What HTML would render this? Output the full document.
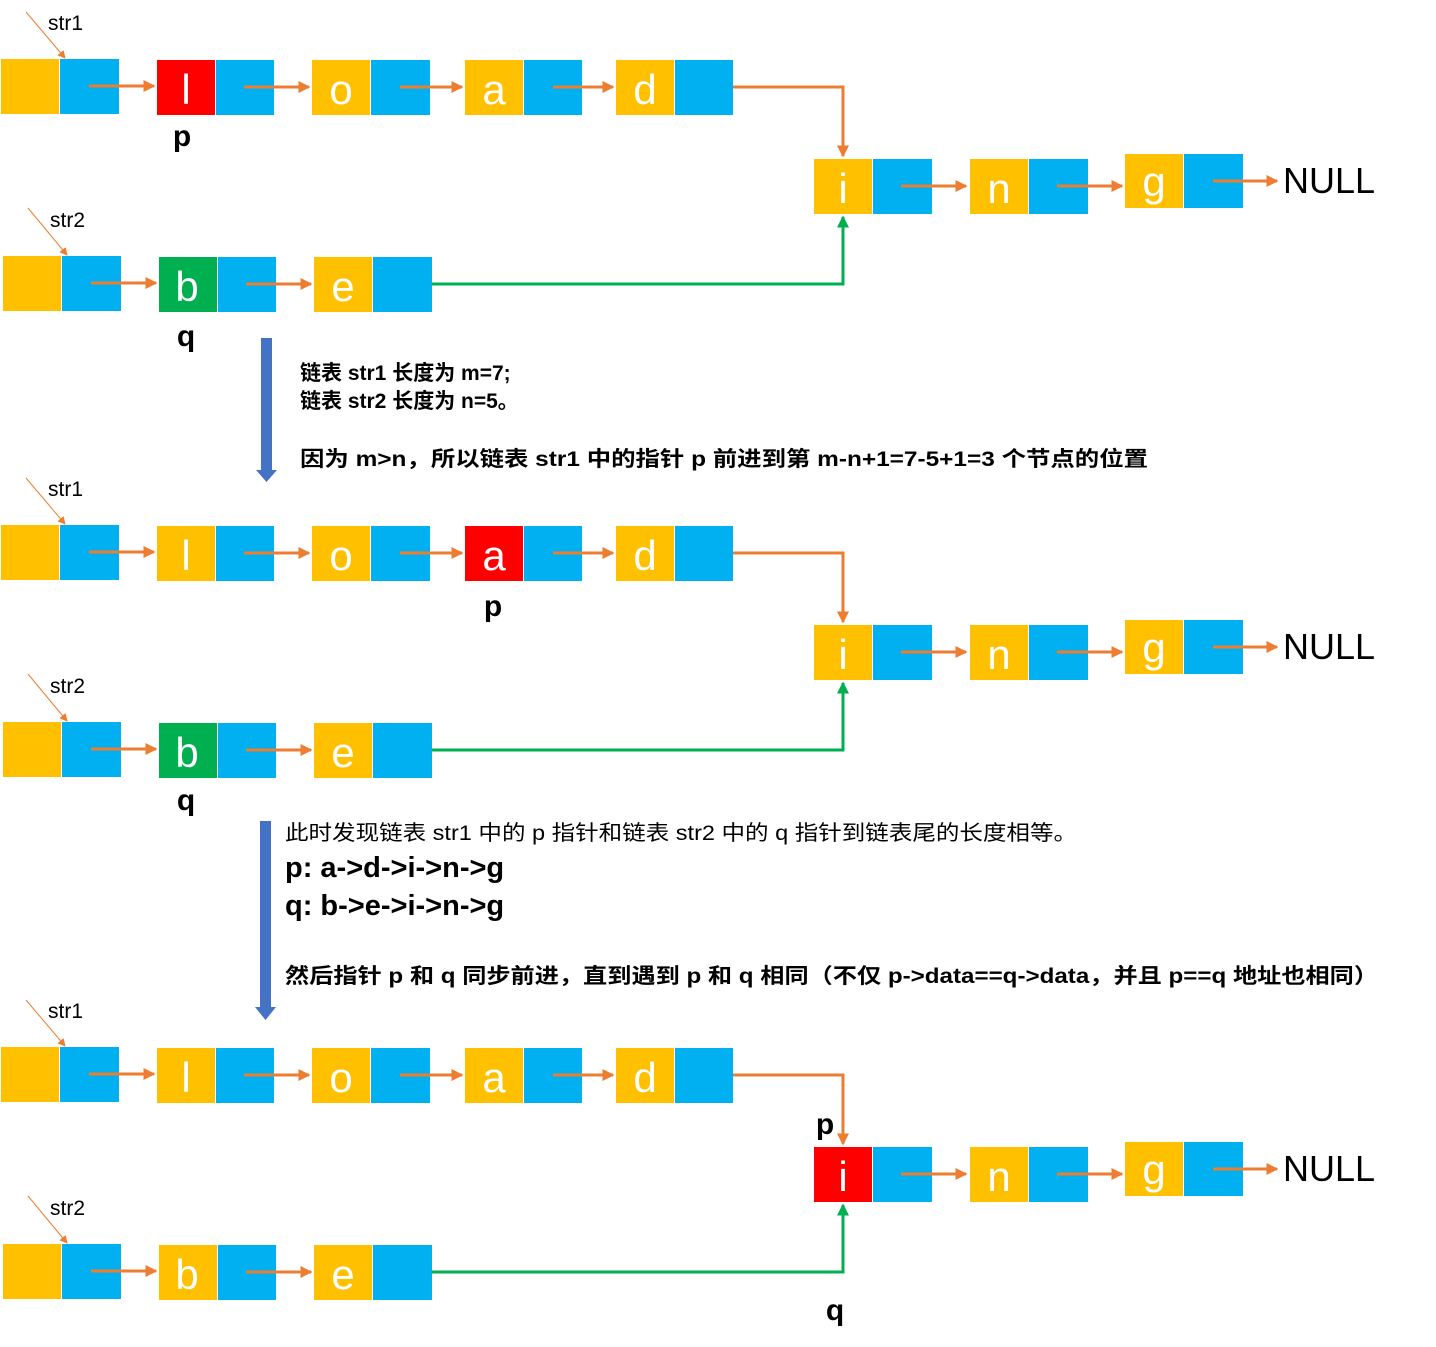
<!DOCTYPE html>
<html><head><meta charset="utf-8"><style>
html,body{margin:0;padding:0;background:#fff;width:1436px;height:1347px;overflow:hidden}
svg{display:block}
.L{font-family:"Liberation Sans",sans-serif;font-size:42px;fill:#fff;text-anchor:middle}
.lab{font-family:"Liberation Sans",sans-serif;font-size:30px;font-weight:bold;fill:#000;text-anchor:middle}
.s{font-family:"Liberation Sans",sans-serif;font-size:21px;fill:#000}
.N{font-family:"Liberation Sans",sans-serif;font-size:36px;fill:#000}
.t{font-family:"Liberation Sans","Noto Sans CJK SC",sans-serif;font-size:21px;font-weight:bold;fill:#000}
.tn{font-family:"Liberation Sans","Noto Sans CJK SC",sans-serif;font-size:21px;fill:#000}
.tb{font-family:"Liberation Sans",sans-serif;font-size:29px;font-weight:bold;fill:#000}
</style></head><body>
<svg width="1436" height="1347" viewBox="0 0 1436 1347" xmlns="http://www.w3.org/2000/svg">
<defs>
<marker id="ao" markerWidth="4" markerHeight="4" refX="3.5" refY="2" orient="auto" markerUnits="strokeWidth"><path d="M0,0 L4,2 L0,4 Z" fill="#ED7D31"/></marker>
<marker id="ag" markerWidth="4" markerHeight="4" refX="3.5" refY="2" orient="auto" markerUnits="strokeWidth"><path d="M0,0 L4,2 L0,4 Z" fill="#00B050"/></marker>
<marker id="at" markerWidth="8" markerHeight="8" refX="7" refY="4" orient="auto" markerUnits="userSpaceOnUse"><path d="M0,0 L8,4 L0,8 Z" fill="#ED7D31"/></marker>
</defs>

<!-- SECTION 1 -->
<g>
<line x1="26" y1="12" x2="65" y2="58" stroke="#ED7D31" stroke-width="1" marker-end="url(#at)"/>
<text x="48" y="30" class="s">str1</text>
<rect x="1" y="59" width="58" height="55" fill="#FFC000"/><rect x="60" y="59" width="59" height="55" fill="#00B0F0"/>
<rect x="157" y="60" width="58" height="55" fill="#FF0000"/><rect x="216" y="60" width="58" height="55" fill="#00B0F0"/><text x="186" y="104" class="L">l</text>
<rect x="312" y="60" width="58" height="55" fill="#FFC000"/><rect x="371" y="60" width="59" height="55" fill="#00B0F0"/><text x="341" y="104" class="L">o</text>
<rect x="465" y="60" width="58" height="55" fill="#FFC000"/><rect x="524" y="60" width="58" height="55" fill="#00B0F0"/><text x="494" y="104" class="L">a</text>
<rect x="616" y="60" width="58" height="55" fill="#FFC000"/><rect x="675" y="60" width="58" height="55" fill="#00B0F0"/><text x="645" y="104" class="L">d</text>
<g stroke="#ED7D31" stroke-width="3" fill="none" marker-end="url(#ao)">
<line x1="89" y1="86" x2="154" y2="86"/><line x1="244" y1="87" x2="309" y2="87"/><line x1="400" y1="87" x2="462" y2="87"/><line x1="553" y1="87" x2="613" y2="87"/>
<polyline points="733,87 843,87 843,156"/>
</g>
<text x="182" y="146" class="lab">p</text>
<line x1="28" y1="208" x2="67" y2="255" stroke="#ED7D31" stroke-width="1" marker-end="url(#at)"/>
<text x="50" y="227" class="s">str2</text>
<rect x="3" y="256" width="58" height="55" fill="#FFC000"/><rect x="62" y="256" width="59" height="55" fill="#00B0F0"/>
<rect x="159" y="257" width="58" height="55" fill="#00B050"/><rect x="218" y="257" width="58" height="55" fill="#00B0F0"/><text x="187" y="301" class="L">b</text>
<rect x="314" y="257" width="58" height="55" fill="#FFC000"/><rect x="373" y="257" width="59" height="55" fill="#00B0F0"/><text x="343" y="301" class="L">e</text>
<g stroke="#ED7D31" stroke-width="3" marker-end="url(#ao)"><line x1="91" y1="283" x2="156" y2="283"/><line x1="246" y1="284" x2="311" y2="284"/></g>
<polyline points="432,284 843,284 843,217" stroke="#00B050" stroke-width="3" fill="none" marker-end="url(#ag)"/>
<text x="186" y="346" class="lab">q</text>
<rect x="814" y="159" width="58" height="55" fill="#FFC000"/><rect x="873" y="159" width="59" height="55" fill="#00B0F0"/><text x="843" y="203" class="L">i</text>
<rect x="970" y="159" width="58" height="55" fill="#FFC000"/><rect x="1029" y="159" width="59" height="55" fill="#00B0F0"/><text x="999" y="203" class="L">n</text>
<rect x="1125" y="154" width="58" height="54" fill="#FFC000"/><rect x="1184" y="154" width="59" height="54" fill="#00B0F0"/><text x="1154" y="196" class="L">g</text>
<g stroke="#ED7D31" stroke-width="3" marker-end="url(#ao)"><line x1="901" y1="186" x2="966" y2="186"/><line x1="1057" y1="186" x2="1122" y2="186"/><line x1="1213" y1="181" x2="1277" y2="181"/></g>
<text x="1283" y="193" class="N">NULL</text>
</g>

<!-- arrow 1 + text -->
<rect x="261" y="338" width="11" height="134" fill="#4472C4"/><path d="M256,470 L277,470 L266.5,482 Z" fill="#4472C4"/>
<text x="300" y="380" class="t">链表 str1 长度为 m=7;</text>
<text x="300" y="408" class="t">链表 str2 长度为 n=5。</text>
<text x="300" y="466" class="t" textLength="848" lengthAdjust="spacingAndGlyphs">因为 m&gt;n，所以链表 str1 中的指针 p 前进到第 m-n+1=7-5+1=3 个节点的位置</text>

<!-- SECTION 2 -->
<g transform="translate(0,466)">
<line x1="26" y1="12" x2="65" y2="58" stroke="#ED7D31" stroke-width="1" marker-end="url(#at)"/>
<text x="48" y="30" class="s">str1</text>
<rect x="1" y="59" width="58" height="55" fill="#FFC000"/><rect x="60" y="59" width="59" height="55" fill="#00B0F0"/>
<rect x="157" y="60" width="58" height="55" fill="#FFC000"/><rect x="216" y="60" width="58" height="55" fill="#00B0F0"/><text x="186" y="104" class="L">l</text>
<rect x="312" y="60" width="58" height="55" fill="#FFC000"/><rect x="371" y="60" width="59" height="55" fill="#00B0F0"/><text x="341" y="104" class="L">o</text>
<rect x="465" y="60" width="58" height="55" fill="#FF0000"/><rect x="524" y="60" width="58" height="55" fill="#00B0F0"/><text x="494" y="104" class="L">a</text>
<rect x="616" y="60" width="58" height="55" fill="#FFC000"/><rect x="675" y="60" width="58" height="55" fill="#00B0F0"/><text x="645" y="104" class="L">d</text>
<g stroke="#ED7D31" stroke-width="3" fill="none" marker-end="url(#ao)">
<line x1="89" y1="86" x2="154" y2="86"/><line x1="244" y1="87" x2="309" y2="87"/><line x1="400" y1="87" x2="462" y2="87"/><line x1="553" y1="87" x2="613" y2="87"/>
<polyline points="733,87 843,87 843,156"/>
</g>
<text x="493" y="150" class="lab">p</text>
<line x1="28" y1="208" x2="67" y2="255" stroke="#ED7D31" stroke-width="1" marker-end="url(#at)"/>
<text x="50" y="227" class="s">str2</text>
<rect x="3" y="256" width="58" height="55" fill="#FFC000"/><rect x="62" y="256" width="59" height="55" fill="#00B0F0"/>
<rect x="159" y="257" width="58" height="55" fill="#00B050"/><rect x="218" y="257" width="58" height="55" fill="#00B0F0"/><text x="187" y="301" class="L">b</text>
<rect x="314" y="257" width="58" height="55" fill="#FFC000"/><rect x="373" y="257" width="59" height="55" fill="#00B0F0"/><text x="343" y="301" class="L">e</text>
<g stroke="#ED7D31" stroke-width="3" marker-end="url(#ao)"><line x1="91" y1="283" x2="156" y2="283"/><line x1="246" y1="284" x2="311" y2="284"/></g>
<polyline points="432,284 843,284 843,217" stroke="#00B050" stroke-width="3" fill="none" marker-end="url(#ag)"/>
<text x="186" y="344" class="lab">q</text>
<rect x="814" y="159" width="58" height="55" fill="#FFC000"/><rect x="873" y="159" width="59" height="55" fill="#00B0F0"/><text x="843" y="203" class="L">i</text>
<rect x="970" y="159" width="58" height="55" fill="#FFC000"/><rect x="1029" y="159" width="59" height="55" fill="#00B0F0"/><text x="999" y="203" class="L">n</text>
<rect x="1125" y="154" width="58" height="54" fill="#FFC000"/><rect x="1184" y="154" width="59" height="54" fill="#00B0F0"/><text x="1154" y="196" class="L">g</text>
<g stroke="#ED7D31" stroke-width="3" marker-end="url(#ao)"><line x1="901" y1="186" x2="966" y2="186"/><line x1="1057" y1="186" x2="1122" y2="186"/><line x1="1213" y1="181" x2="1277" y2="181"/></g>
<text x="1283" y="193" class="N">NULL</text>
</g>

<!-- arrow 2 + text -->
<rect x="260" y="821" width="11" height="188" fill="#4472C4"/><path d="M255,1007 L276,1007 L265.5,1020 Z" fill="#4472C4"/>
<text x="285" y="840" class="tn" textLength="792" lengthAdjust="spacingAndGlyphs">此时发现链表 str1 中的 p 指针和链表 str2 中的 q 指针到链表尾的长度相等。</text>
<text x="285" y="877" class="tb">p: a-&gt;d-&gt;i-&gt;n-&gt;g</text>
<text x="285" y="915" class="tb">q: b-&gt;e-&gt;i-&gt;n-&gt;g</text>
<text x="285" y="983" class="t" textLength="1093" lengthAdjust="spacingAndGlyphs">然后指针 p 和 q 同步前进，直到遇到 p 和 q 相同（不仅 p-&gt;data==q-&gt;data，并且 p==q 地址也相同）</text>

<!-- SECTION 3 -->
<g transform="translate(0,988)">
<line x1="26" y1="12" x2="65" y2="58" stroke="#ED7D31" stroke-width="1" marker-end="url(#at)"/>
<text x="48" y="30" class="s">str1</text>
<rect x="1" y="59" width="58" height="55" fill="#FFC000"/><rect x="60" y="59" width="59" height="55" fill="#00B0F0"/>
<rect x="157" y="60" width="58" height="55" fill="#FFC000"/><rect x="216" y="60" width="58" height="55" fill="#00B0F0"/><text x="186" y="104" class="L">l</text>
<rect x="312" y="60" width="58" height="55" fill="#FFC000"/><rect x="371" y="60" width="59" height="55" fill="#00B0F0"/><text x="341" y="104" class="L">o</text>
<rect x="465" y="60" width="58" height="55" fill="#FFC000"/><rect x="524" y="60" width="58" height="55" fill="#00B0F0"/><text x="494" y="104" class="L">a</text>
<rect x="616" y="60" width="58" height="55" fill="#FFC000"/><rect x="675" y="60" width="58" height="55" fill="#00B0F0"/><text x="645" y="104" class="L">d</text>
<g stroke="#ED7D31" stroke-width="3" fill="none" marker-end="url(#ao)">
<line x1="89" y1="86" x2="154" y2="86"/><line x1="244" y1="87" x2="309" y2="87"/><line x1="400" y1="87" x2="462" y2="87"/><line x1="553" y1="87" x2="613" y2="87"/>
<polyline points="733,87 843,87 843,156"/>
</g>
<text x="825" y="146" class="lab">p</text>
<line x1="28" y1="208" x2="67" y2="255" stroke="#ED7D31" stroke-width="1" marker-end="url(#at)"/>
<text x="50" y="227" class="s">str2</text>
<rect x="3" y="256" width="58" height="55" fill="#FFC000"/><rect x="62" y="256" width="59" height="55" fill="#00B0F0"/>
<rect x="159" y="257" width="58" height="55" fill="#FFC000"/><rect x="218" y="257" width="58" height="55" fill="#00B0F0"/><text x="187" y="301" class="L">b</text>
<rect x="314" y="257" width="58" height="55" fill="#FFC000"/><rect x="373" y="257" width="59" height="55" fill="#00B0F0"/><text x="343" y="301" class="L">e</text>
<g stroke="#ED7D31" stroke-width="3" marker-end="url(#ao)"><line x1="91" y1="283" x2="156" y2="283"/><line x1="246" y1="284" x2="311" y2="284"/></g>
<polyline points="432,284 843,284 843,217" stroke="#00B050" stroke-width="3" fill="none" marker-end="url(#ag)"/>
<text x="835" y="332" class="lab">q</text>
<rect x="814" y="159" width="58" height="55" fill="#FF0000"/><rect x="873" y="159" width="59" height="55" fill="#00B0F0"/><text x="843" y="203" class="L">i</text>
<rect x="970" y="159" width="58" height="55" fill="#FFC000"/><rect x="1029" y="159" width="59" height="55" fill="#00B0F0"/><text x="999" y="203" class="L">n</text>
<rect x="1125" y="154" width="58" height="54" fill="#FFC000"/><rect x="1184" y="154" width="59" height="54" fill="#00B0F0"/><text x="1154" y="196" class="L">g</text>
<g stroke="#ED7D31" stroke-width="3" marker-end="url(#ao)"><line x1="901" y1="186" x2="966" y2="186"/><line x1="1057" y1="186" x2="1122" y2="186"/><line x1="1213" y1="181" x2="1277" y2="181"/></g>
<text x="1283" y="193" class="N">NULL</text>
</g>
</svg>
</body></html>
